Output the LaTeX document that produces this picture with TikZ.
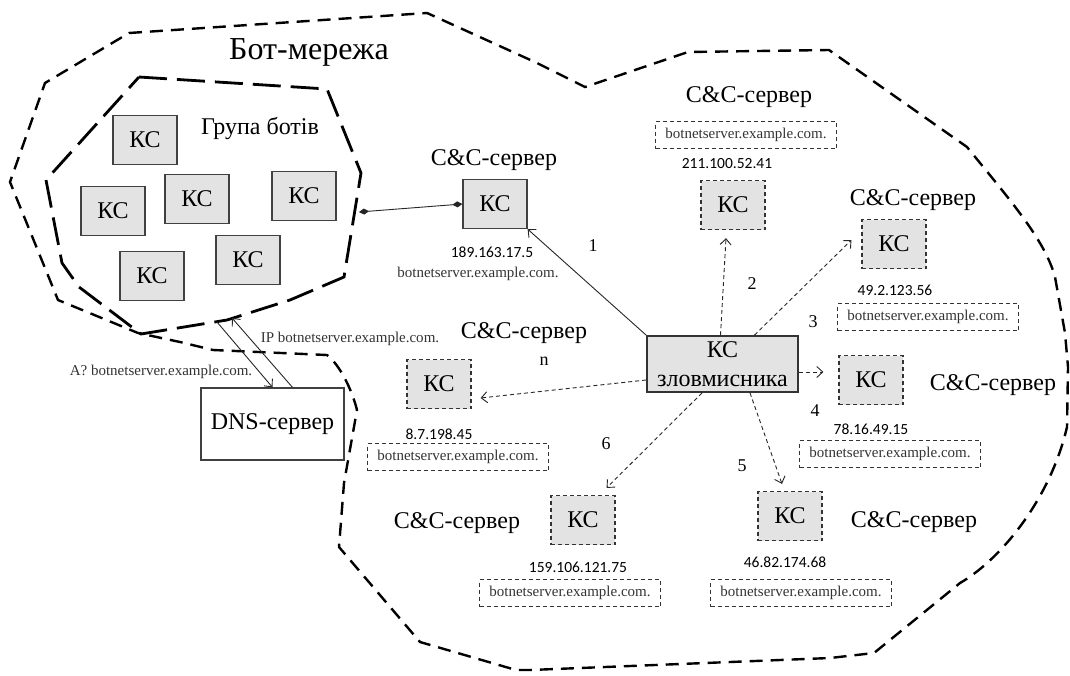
\documentclass[tikz,border=0pt]{standalone}
\usepackage{fontspec}
\setmainfont{Liberation Serif}
\newfontfamily\calfont{Carlito}
\usetikzlibrary{arrows.meta}
\begin{document}
\begin{tikzpicture}[x=1pt,y=-1pt,
  ks/.style={draw=black!75, line width=1.3pt, fill=gray!22, minimum width=64pt, minimum height=49pt, inner sep=0pt, font=\fontsize{24}{26}\selectfont},
  ksd/.style={ks, dash pattern=on 4pt off 3pt, draw=black!80, line width=1.2pt},
  lbl/.style={font=\fontsize{24}{26}\selectfont, inner sep=0pt},
  dom/.style={draw=black!80, dash pattern=on 4pt off 3pt, line width=1.1pt, minimum width=181pt, minimum height=27pt, inner sep=0pt, font=\fontsize{15}{17}\selectfont, text=black!80},
  ip/.style={font=\calfont\fontsize{15.5}{17}\selectfont, inner sep=0pt},
  num/.style={font=\fontsize{18}{20}\selectfont, inner sep=0pt},
  small/.style={font=\fontsize{15}{17}\selectfont, inner sep=0pt, text=black!80},
  conn/.style={line width=0.9pt, draw=black!85},
  dconn/.style={conn, dash pattern=on 4pt off 3pt},
  tip/.style={-{Straight Barb[length=6pt,width=11pt]}},
  dtip/.style={{Diamond[length=10pt,width=6pt]}-{Diamond[length=10pt,width=6pt]}},
  outerline/.style={line width=2.4pt, dash pattern=on 13pt off 8pt},
  innerline/.style={line width=2.8pt, dash pattern=on 28pt off 10pt},
]
\useasboundingbox (0,0) rectangle (1070,675);

% outer cloud (bot-net)
\draw[outerline] (129,33) -- (427,13) -- (537,63) -- (585,87) -- (688,52) -- (829,50) -- (967,147)
  .. controls (1010,200) and (1045,240) .. (1055,277) -- (1065,333) -- (1068,367) -- (1067,427)
  .. controls (1050,500) and (1000,560) .. (960,583) -- (874,653) -- (830,658) -- (530,670) -- (516,670)
  -- (420,642) -- (339,547) -- (344,483) -- (357,410) .. controls (352,390) and (340,365) .. (327,355)
  -- (213,350) -- (180,342) -- (138,333) -- (58,300) -- (10,182) -- (45,83) -- cycle;

% inner group polygon
\draw[innerline] (139,77) -- (327,89) -- (361,173) -- (344,277) -- (290,300) -- (227,320) -- (141,334)
  -- (79,287) -- (62,263) -- (46,180) -- cycle;

\node[font=\fontsize{32}{34}\selectfont, inner sep=0pt] (botnet) at (309,52) {Бот-мережа};
\node[lbl] (group) at (260,128) {Група ботів};

\node[ks] (b1) at (145,140) {КС};
\node[ks] (b2) at (113,211) {КС};
\node[ks] (b3) at (197,199) {КС};
\node[ks] (b4) at (304,196) {КС};
\node[ks] (b5) at (152,276) {КС};
\node[ks] (b6) at (248,260) {КС};

% C&C server 1
\node[ks] (c1) at (495,204) {КС};
\node[lbl] (c1l) at (494,160) {C\&C-сервер};
\node[ip] (c1ip) at (492,252) {189.163.17.5};
\node[small] (c1d) at (478,274) {botnetserver.example.com.};
\coordinate (g) at (359,212);
\draw[conn, dtip] (g) -- (c1.west);

% attacker
\node[draw=black!80, line width=1.8pt, fill=gray!22, minimum width=151pt, minimum height=56pt, inner sep=0pt,
  font=\fontsize{24}{26}\selectfont, align=center] (att) at (722.5,364) {КС\\[3pt]зловмисника};

% C&C 2
\node[ksd] (k2) at (733,205) {КС};
\node[lbl] (k2l) at (749,97) {C\&C-сервер};
\node[dom] (k2d) at (746,135) {botnetserver.example.com.};
\node[ip] (k2ip) at (727,164) {211.100.52.41};

% C&C 3
\node[ksd] (k3) at (894,244) {КС};
\node[lbl] (k3l) at (913,200) {C\&C-сервер};
\node[ip] (k3ip) at (895,290) {49.2.123.56};
\node[dom] (k3d) at (928,317) {botnetserver.example.com.};

% C&C 4
\node[ksd] (k4) at (871,380) {КС};
\node[lbl] (k4l) at (993,385) {C\&C-сервер};
\node[ip] (k4ip) at (871,429) {78.16.49.15};
\node[dom] (k4d) at (890,454) {botnetserver.example.com.};

% C&C 5
\node[ksd] (k5) at (790,516) {КС};
\node[lbl] (k5l) at (914,522) {C\&C-сервер};
\node[ip] (k5ip) at (785,562) {46.82.174.68};
\node[dom] (k5d) at (801,593) {botnetserver.example.com.};

% C&C 6
\node[ksd] (k6) at (583,520) {КС};
\node[lbl] (k6l) at (457,523) {C\&C-сервер};
\node[ip] (k6ip) at (578,567) {159.106.121.75};
\node[dom] (k6d) at (570,593) {botnetserver.example.com.};

% C&C n
\node[ksd] (kn) at (439,384) {КС};
\node[lbl] (knl) at (524,333) {C\&C-сервер};
\node[ip] (knip) at (439,434) {8.7.198.45};
\node[dom] (knd) at (458,457) {botnetserver.example.com.};

% connectors from attacker
\draw[conn, tip] (att.north west) -- (c1.south east);
\draw[dconn, tip] ([xshift=-2pt]att.north) -- ([xshift=-7pt,yshift=-8pt]k2.south);
\draw[dconn, tip] ([xshift=32pt]att.north) -- ([xshift=-10pt,yshift=4pt]k3.west);
\draw[dconn, tip] ([yshift=-8pt]att.east) -- ([xshift=-15pt,yshift=8pt]k4.west);
\draw[dconn, tip] ([xshift=27.5pt]att.south) -- ([xshift=-8pt,yshift=7pt]k5.north);
\draw[dconn, tip] ([xshift=-20.5pt]att.south) -- ([xshift=-9pt,yshift=7pt]k6.north east);
\draw[dconn, tip] ([yshift=-16pt]att.west) -- ([xshift=9pt,yshift=-14pt]kn.east);

\node[num] (n1) at (593,246) {1};
\node[num] (n2) at (752,284) {2};
\node[num] (n3) at (813,322) {3};
\node[num] (n4) at (815,411) {4};
\node[num] (n5) at (742,466) {5};
\node[num] (n6) at (606,444) {6};
\node[num] (nn) at (544,361) {n};

% DNS
\node[draw=black!75, line width=1.3pt, fill=white, minimum width=143pt, minimum height=72pt, inner sep=0pt,
  font=\fontsize{24}{26}\selectfont] (dns) at (272.5,424) {DNS-сервер};
\coordinate (q1) at (217,322);
\coordinate (q2) at (232,318);
\draw[conn, tip] (q1) -- (dns.north);
\draw[conn, tip] ([xshift=20pt]dns.north) -- (q2);
\node[small] (ipl) at (350,339) {IP botnetserver.example.com.};
\node[small] (aql) at (161,372) {A? botnetserver.example.com.};
\end{tikzpicture}
\end{document}
